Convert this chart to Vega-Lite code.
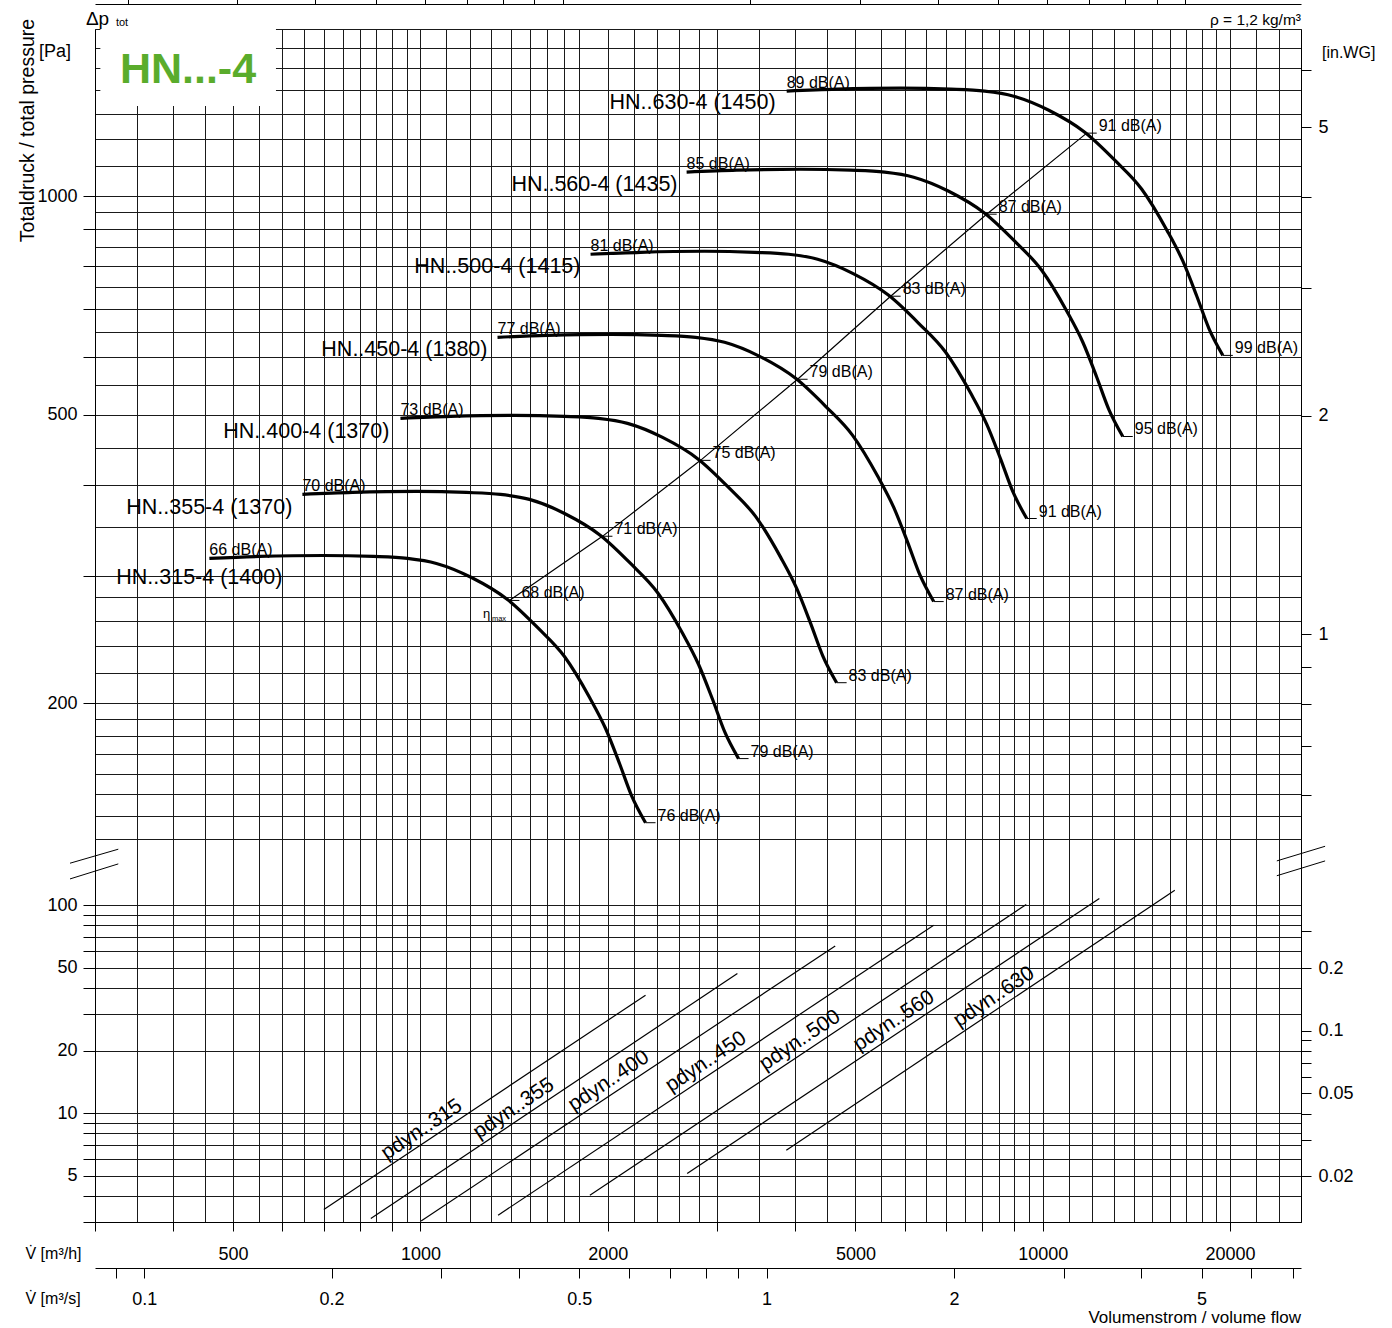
{
"$schema": "https://vega.github.io/schema/vega-lite/v6.json",
"width": 1206, "height": 1193,
"autosize": {"type": "none"},
"padding": {"left": 95, "top": 29, "right": 91, "bottom": 106},
"background": "#ffffff",
"config": {
 "view": {"stroke": null},
 "font": "Liberation Sans",
 "axis": {"domainColor": "#000", "tickColor": "#000", "gridColor": "#1a1a1a", "labelColor": "#000", "titleColor": "#000", "labelFontSize": 18, "titleFontWeight": "normal", "labelOverlap": false, "labelFlush": false, "labelBound": false, "tickWidth": 1, "domainWidth": 1, "gridWidth": 1, "gridOpacity": 1},
 "text": {"color": "#000"}
},
"datasets": {
 "xgrid": [300,350,400,450,500,550,600,650,700,750,800,850,900,950,1000,1100,1200,1300,1400,1500,1600,1700,1800,2000,2200,2400,2600,2800,3000,3500,4000,4500,5000,5500,6000,6500,7000,7500,8000,8500,9000,9500,10000,11000,12000,13000,14000,15000,16000,17000,18000,19000,20000,22000,24000,26000],
 "curves": [
  {"fan":"315","v":458,"p":316.7},{"fan":"315","v":551,"p":318.7},{"fan":"315","v":698.3,"p":319.7},{"fan":"315","v":840.5,"p":318.7},{"fan":"315","v":953,"p":316.7},{"fan":"315","v":1061,"p":311.7},{"fan":"315","v":1208,"p":298.1},{"fan":"315","v":1380,"p":278.0},{"fan":"315","v":1542,"p":254.4},{"fan":"315","v":1704,"p":232.0},{"fan":"315","v":1870,"p":203.7},{"fan":"315","v":1984,"p":184.6},{"fan":"315","v":2089,"p":165.2},{"fan":"315","v":2184,"p":149.2},{"fan":"315","v":2300,"p":136.9},
  {"fan":"355","v":646.2,"p":388.1},{"fan":"355","v":777.5,"p":390.5},{"fan":"355","v":985.3,"p":391.8},{"fan":"355","v":1186,"p":390.5},{"fan":"355","v":1344.7,"p":388.1},{"fan":"355","v":1497,"p":382.0},{"fan":"355","v":1704.5,"p":365.3},{"fan":"355","v":1947,"p":340.7},{"fan":"355","v":2176,"p":311.7},{"fan":"355","v":2404,"p":284.3},{"fan":"355","v":2639,"p":249.6},{"fan":"355","v":2799,"p":226.2},{"fan":"355","v":2948,"p":202.4},{"fan":"355","v":3082,"p":182.8},{"fan":"355","v":3245,"p":167.8},
  {"fan":"400","v":928.8,"p":494.0},{"fan":"400","v":1117.4,"p":497.1},{"fan":"400","v":1416.1,"p":498.7},{"fan":"400","v":1704.5,"p":497.1},{"fan":"400","v":1932.7,"p":494.0},{"fan":"400","v":2151.7,"p":486.2},{"fan":"400","v":2449.8,"p":465.0},{"fan":"400","v":2798.6,"p":433.7},{"fan":"400","v":3127.2,"p":396.8},{"fan":"400","v":3455.7,"p":361.9},{"fan":"400","v":3792.4,"p":317.8},{"fan":"400","v":4023.6,"p":288.0},{"fan":"400","v":4236.5,"p":257.7},{"fan":"400","v":4429.2,"p":232.7},{"fan":"400","v":4664.4,"p":213.5},
  {"fan":"450","v":1330.1,"p":639.0},{"fan":"450","v":1600.2,"p":643.0},{"fan":"450","v":2027.9,"p":645.0},{"fan":"450","v":2440.9,"p":643.0},{"fan":"450","v":2767.6,"p":639.0},{"fan":"450","v":3081.3,"p":628.9},{"fan":"450","v":3508.2,"p":601.5},{"fan":"450","v":4007.7,"p":560.9},{"fan":"450","v":4478.1,"p":513.3},{"fan":"450","v":4948.6,"p":468.1},{"fan":"450","v":5430.7,"p":411.0},{"fan":"450","v":5761.7,"p":372.4},{"fan":"450","v":6066.7,"p":333.3},{"fan":"450","v":6342.6,"p":301.0},{"fan":"450","v":6679.4,"p":276.2},
  {"fan":"500","v":1876.7,"p":831.7},{"fan":"500","v":2257.8,"p":836.9},{"fan":"500","v":2861.4,"p":839.6},{"fan":"500","v":3444.1,"p":836.9},{"fan":"500","v":3905.1,"p":831.7},{"fan":"500","v":4347.7,"p":818.6},{"fan":"500","v":4950.0,"p":782.8},{"fan":"500","v":5654.8,"p":730.1},{"fan":"500","v":6318.7,"p":668.1},{"fan":"500","v":6982.5,"p":609.3},{"fan":"500","v":7662.7,"p":534.9},{"fan":"500","v":8129.8,"p":484.8},{"fan":"500","v":8560.1,"p":433.8},{"fan":"500","v":8949.4,"p":391.8},{"fan":"500","v":9424.7,"p":359.5},
  {"fan":"560","v":2677.6,"p":1079.1},{"fan":"560","v":3221.3,"p":1085.9},{"fan":"560","v":4082.4,"p":1089.3},{"fan":"560","v":4913.7,"p":1085.9},{"fan":"560","v":5571.4,"p":1079.1},{"fan":"560","v":6202.8,"p":1062.0},{"fan":"560","v":7062.2,"p":1015.7},{"fan":"560","v":8067.8,"p":947.2},{"fan":"560","v":9014.8,"p":866.8},{"fan":"560","v":9961.9,"p":790.5},{"fan":"560","v":10932.4,"p":694.0},{"fan":"560","v":11598.9,"p":629.0},{"fan":"560","v":12212.7,"p":562.9},{"fan":"560","v":12768.1,"p":508.4},{"fan":"560","v":13446.3,"p":466.4},
  {"fan":"630","v":3877.2,"p":1395.7},{"fan":"630","v":4664.4,"p":1404.5},{"fan":"630","v":5911.4,"p":1408.9},{"fan":"630","v":7115.2,"p":1404.5},{"fan":"630","v":8067.5,"p":1395.7},{"fan":"630","v":8981.8,"p":1373.6},{"fan":"630","v":10226.2,"p":1313.7},{"fan":"630","v":11682.3,"p":1225.1},{"fan":"630","v":13053.6,"p":1121.1},{"fan":"630","v":14425.0,"p":1022.4},{"fan":"630","v":15830.3,"p":897.7},{"fan":"630","v":16795.4,"p":813.5},{"fan":"630","v":17684.2,"p":728.0},{"fan":"630","v":18488.4,"p":657.5},{"fan":"630","v":19470.4,"p":603.3}
 ],
 "eta": [{"v":1390,"p":277.2},{"v":1961,"p":339.7},{"v":2819,"p":432.4},{"v":4037,"p":559.3},{"v":5696,"p":728.0},{"v":8126,"p":944.5},{"v":11767,"p":1221.6}],
 "dbTick": [
  {"v":1390,"p":277.2,"t":"68 dB(A)"},{"v":1961,"p":339.7,"t":"71 dB(A)"},{"v":2819,"p":432.4,"t":"75 dB(A)"},{"v":4037,"p":559.3,"t":"79 dB(A)"},{"v":5696,"p":728.0,"t":"83 dB(A)"},{"v":8126,"p":944.5,"t":"87 dB(A)"},{"v":11767,"p":1221.6,"t":"91 dB(A)"},
  {"v":2300,"p":136.9,"t":"76 dB(A)"},{"v":3245,"p":167.8,"t":"79 dB(A)"},{"v":4664.4,"p":213.5,"t":"83 dB(A)"},{"v":6679.4,"p":276.2,"t":"87 dB(A)"},{"v":9424.7,"p":359.5,"t":"91 dB(A)"},{"v":13446.3,"p":466.4,"t":"95 dB(A)"},{"v":19470.4,"p":603.3,"t":"99 dB(A)"}
 ],
 "dbStart": [{"v":458,"p":316.7,"t":"66 dB(A)"},{"v":646.2,"p":388.1,"t":"70 dB(A)"},{"v":928.8,"p":494.0,"t":"73 dB(A)"},{"v":1330.1,"p":639.0,"t":"77 dB(A)"},{"v":1876.7,"p":831.7,"t":"81 dB(A)"},{"v":2677.6,"p":1079.1,"t":"85 dB(A)"},{"v":3877.2,"p":1395.7,"t":"89 dB(A)"}],
 "names": [{"v":600,"p":298.1,"t":"HN..315-4 (1400)"},{"v":622.6,"p":371.3,"t":"HN..355-4 (1370)"},{"v":891.6,"p":472.6,"t":"HN..400-4 (1370)"},{"v":1281.6,"p":613.4,"t":"HN..450-4 (1380)"},{"v":1808,"p":798,"t":"HN..500-4 (1415)"},{"v":2589,"p":1035,"t":"HN..560-4 (1435)"},{"v":3722,"p":1344,"t":"HN..630-4 (1450)"}],
 "pdyn": [
  {"fan":"315","v":699.6,"p":3.444},{"fan":"315","v":2300,"p":36.93},
  {"fan":"355","v":832.4,"p":3.117},{"fan":"355","v":3231,"p":46.95},
  {"fan":"400","v":1002.6,"p":3.036},{"fan":"400","v":4640,"p":63.72},
  {"fan":"450","v":1333,"p":3.233},{"fan":"450","v":6680,"p":80.14},
  {"fan":"500","v":1872,"p":4.035},{"fan":"500","v":9407,"p":100.8},
  {"fan":"560","v":2683,"p":5.130},{"fan":"560","v":12329,"p":107.7},
  {"fan":"630","v":3872,"p":6.640},{"fan":"630","v":16300,"p":118.1}
 ],
 "pdynLabels": [{"v":1030,"p":7.47,"t":"pdyn..315"},{"v":1448,"p":9.43,"t":"pdyn..355"},{"v":2058,"p":12.79,"t":"pdyn..400"},{"v":2948,"p":15.81,"t":"pdyn..450"},{"v":4175,"p":20.07,"t":"pdyn..500"},{"v":5910,"p":24.89,"t":"pdyn..560"},{"v":8559,"p":32.45,"t":"pdyn..630"}],
 "breaks": [{"id":"a","v":273.5,"p":159.1},{"id":"a","v":327.0,"p":185.8},{"id":"b","v":273.5,"p":133.7},{"id":"b","v":327.0,"p":157.9},{"id":"c","v":23775,"p":163.2},{"id":"c","v":28425,"p":191.9},{"id":"d","v":23775,"p":138.5},{"id":"d","v":28425,"p":163.2}]
},
"resolve": {"scale": {"y": "independent"}, "axis": {"x": "independent", "y": "independent"}},
"layer": [
 {
  "resolve": {"axis": {"x": "independent", "y": "independent"}},
  "layer": [
   {"data": {"name": "curves"},
    "mark": {"type": "line", "stroke": "#000", "strokeWidth": 3.2, "interpolate": "monotone"},
    "encoding": {
     "x": {"field": "v", "type": "quantitative", "scale": {"type": "log", "domain": [300, 26000], "nice": false},
      "axis": {"orient": "top", "grid": true, "domain": false, "ticks": false, "labels": false, "title": null,
       "values": [300,350,400,450,500,550,600,650,700,750,800,850,900,950,1000,1100,1200,1300,1400,1500,1600,1700,1800,2000,2200,2400,2600,2800,3000,3500,4000,4500,5000,5500,6000,6500,7000,7500,8000,8500,9000,9500,10000,11000,12000,13000,14000,15000,16000,17000,18000,19000,20000,22000,24000,26000]}},
     "y": {"field": "p", "type": "quantitative", "scale": {"type": "log", "domain": [130, 1700], "range": [810, 0], "nice": false},
      "axis": {"orient": "left", "grid": true, "domain": false, "ticks": false, "labels": false, "title": null,
       "values": [130,140,150,160,170,180,190,200,220,240,260,280,300,350,400,450,500,550,600,650,700,750,800,850,900,950,1000,1100,1200,1300,1400,1500,1600,1700]}},
     "detail": {"field": "fan"}
    }},
   {"data": {"name": "eta"},
    "mark": {"type": "line", "stroke": "#000", "strokeWidth": 1.2},
    "encoding": {
     "x": {"field": "v", "type": "quantitative", "scale": {"type": "log", "domain": [300, 26000], "nice": false},
      "axis": {"orient": "top", "offset": 25, "grid": false, "labels": false, "ticks": true, "tickSize": 8, "domain": true, "title": null,
       "values": [339,508,678,847,1017,1186,1356,1525,1695,3390,5085,6780,8475,10170,11865,13560,15255,16950]}},
     "y": {"field": "p", "type": "quantitative", "scale": {"type": "log", "domain": [130, 1700], "range": [810, 0], "nice": false},
      "axis": {"orient": "left", "grid": false, "domain": true, "tickSize": 12, "labelPadding": 6, "labelBaseline": "middle",
       "values": [200,300,400,500,600,700,800,900,1000],
       "labelExpr": "indexof([200,500,1000], datum.value) >= 0 ? '' + datum.value : ''",
       "title": "Totaldruck / total pressure", "titleAngle": 270, "titleX": -62, "titleY": 101, "titleAlign": "center", "titleBaseline": "alphabetic", "titleFontSize": 19.5}}
    }},
   {"data": {"name": "dbTick"},
    "mark": {"type": "tick", "orient": "horizontal", "size": 10, "thickness": 1, "xOffset": 5, "color": "#000", "opacity": 1},
    "encoding": {
     "x": {"field": "v", "type": "quantitative", "scale": {"type": "log", "domain": [300, 26000], "nice": false}, "axis": null},
     "y": {"field": "p", "type": "quantitative", "scale": {"type": "log", "domain": [130, 1700], "range": [810, 0], "nice": false},
      "axis": {"orient": "right", "grid": false, "domain": true, "tickSize": 10, "labelPadding": 7, "title": null, "labelBaseline": "middle",
       "values": [149.45,174.36,199.27,224.18,249.09,498.18,747.27,996.36,1245.45,1494.53],
       "labelExpr": "datum.value > 1200 && datum.value < 1300 ? '5' : (datum.value > 480 && datum.value < 520 ? '2' : (datum.value > 240 && datum.value < 260 ? '1' : ''))"}}
    }},
   {"data": {"name": "dbTick"},
    "mark": {"type": "text", "align": "left", "baseline": "alphabetic", "dx": 12, "dy": -2, "fontSize": 16, "fill": "#000"},
    "encoding": {
     "x": {"field": "v", "type": "quantitative", "scale": {"type": "log", "domain": [300, 26000], "nice": false}, "axis": null},
     "y": {"field": "p", "type": "quantitative", "scale": {"type": "log", "domain": [130, 1700], "range": [810, 0], "nice": false}, "axis": null},
     "text": {"field": "t"}
    }},
   {"data": {"name": "dbStart"},
    "mark": {"type": "text", "align": "left", "baseline": "alphabetic", "dx": 0, "dy": -3, "fontSize": 16, "fill": "#000"},
    "encoding": {
     "x": {"field": "v", "type": "quantitative", "scale": {"type": "log", "domain": [300, 26000], "nice": false}, "axis": null},
     "y": {"field": "p", "type": "quantitative", "scale": {"type": "log", "domain": [130, 1700], "range": [810, 0], "nice": false}, "axis": null},
     "text": {"field": "t"}
    }},
   {"data": {"name": "names"},
    "mark": {"type": "text", "align": "right", "baseline": "middle", "fontSize": 21.5, "fill": "#000"},
    "encoding": {
     "x": {"field": "v", "type": "quantitative", "scale": {"type": "log", "domain": [300, 26000], "nice": false}, "axis": null},
     "y": {"field": "p", "type": "quantitative", "scale": {"type": "log", "domain": [130, 1700], "range": [810, 0], "nice": false}, "axis": null},
     "text": {"field": "t"}
    }},
   {"data": {"values": [{"v": 306, "v2": 586, "p": 1331, "p2": 1700}]},
    "mark": {"type": "rect", "fill": "#ffffff", "stroke": null},
    "encoding": {
     "x": {"field": "v", "type": "quantitative", "scale": {"type": "log", "domain": [300, 26000], "nice": false}, "axis": null},
     "x2": {"field": "v2"},
     "y": {"field": "p", "type": "quantitative", "scale": {"type": "log", "domain": [130, 1700], "range": [810, 0], "nice": false}, "axis": null},
     "y2": {"field": "p2"}
    }},
   {"data": {"values": [{"v": 423.2, "p": 1432.3, "t": "HN...-4"}]},
    "mark": {"type": "text", "align": "center", "baseline": "alphabetic", "fontSize": 43, "fontWeight": "bold", "fill": "#5aac2c"},
    "encoding": {
     "x": {"field": "v", "type": "quantitative", "scale": {"type": "log", "domain": [300, 26000], "nice": false}, "axis": null},
     "y": {"field": "p", "type": "quantitative", "scale": {"type": "log", "domain": [130, 1700], "range": [810, 0], "nice": false}, "axis": null},
     "text": {"field": "t"}
    }},
   {"data": {"values": [{"v": 290.1, "p": 1721.7, "t": "Δp"}]},
    "mark": {"type": "text", "align": "left", "baseline": "alphabetic", "fontSize": 19, "fill": "#000"},
    "encoding": {
     "x": {"field": "v", "type": "quantitative", "scale": {"type": "log", "domain": [300, 26000], "nice": false}, "axis": null},
     "y": {"field": "p", "type": "quantitative", "scale": {"type": "log", "domain": [130, 1700], "range": [810, 0], "nice": false}, "axis": null},
     "text": {"field": "t"}
    }},
   {"data": {"values": [{"v": 324.1, "p": 1716, "t": "tot"}]},
    "mark": {"type": "text", "align": "left", "baseline": "alphabetic", "fontSize": 11, "fill": "#000"},
    "encoding": {
     "x": {"field": "v", "type": "quantitative", "scale": {"type": "log", "domain": [300, 26000], "nice": false}, "axis": null},
     "y": {"field": "p", "type": "quantitative", "scale": {"type": "log", "domain": [130, 1700], "range": [810, 0], "nice": false}, "axis": null},
     "text": {"field": "t"}
    }},
   {"data": {"values": [{"v": 243.8, "p": 1555.5, "t": "[Pa]"}]},
    "mark": {"type": "text", "align": "left", "baseline": "alphabetic", "fontSize": 18, "fill": "#000"},
    "encoding": {
     "x": {"field": "v", "type": "quantitative", "scale": {"type": "log", "domain": [300, 26000], "nice": false}, "axis": null},
     "y": {"field": "p", "type": "quantitative", "scale": {"type": "log", "domain": [130, 1700], "range": [810, 0], "nice": false}, "axis": null},
     "text": {"field": "t"}
    }},
   {"data": {"values": [{"v": 26000, "p": 1721.7, "t": "ρ = 1,2 kg/m³"}]},
    "mark": {"type": "text", "align": "right", "baseline": "alphabetic", "fontSize": 15.5, "fill": "#000"},
    "encoding": {
     "x": {"field": "v", "type": "quantitative", "scale": {"type": "log", "domain": [300, 26000], "nice": false}, "axis": null},
     "y": {"field": "p", "type": "quantitative", "scale": {"type": "log", "domain": [130, 1700], "range": [810, 0], "nice": false}, "axis": null},
     "text": {"field": "t"}
    }},
   {"data": {"values": [{"v": 28100, "p": 1550.7, "t": "[in.WG]"}]},
    "mark": {"type": "text", "align": "left", "baseline": "alphabetic", "fontSize": 16, "fill": "#000"},
    "encoding": {
     "x": {"field": "v", "type": "quantitative", "scale": {"type": "log", "domain": [300, 26000], "nice": false}, "axis": null},
     "y": {"field": "p", "type": "quantitative", "scale": {"type": "log", "domain": [130, 1700], "range": [810, 0], "nice": false}, "axis": null},
     "text": {"field": "t"}
    }},
   {"data": {"values": [{"v": 1260.6, "p": 262.2, "t": "η"}]},
    "mark": {"type": "text", "align": "left", "baseline": "alphabetic", "fontSize": 13, "fill": "#000"},
    "encoding": {
     "x": {"field": "v", "type": "quantitative", "scale": {"type": "log", "domain": [300, 26000], "nice": false}, "axis": null},
     "y": {"field": "p", "type": "quantitative", "scale": {"type": "log", "domain": [130, 1700], "range": [810, 0], "nice": false}, "axis": null},
     "text": {"field": "t"}
    }},
   {"data": {"values": [{"v": 1303, "p": 259.7, "t": "max"}]},
    "mark": {"type": "text", "align": "left", "baseline": "alphabetic", "fontSize": 7.5, "fill": "#000"},
    "encoding": {
     "x": {"field": "v", "type": "quantitative", "scale": {"type": "log", "domain": [300, 26000], "nice": false}, "axis": null},
     "y": {"field": "p", "type": "quantitative", "scale": {"type": "log", "domain": [130, 1700], "range": [810, 0], "nice": false}, "axis": null},
     "text": {"field": "t"}
    }}
  ]
 },
 {
  "resolve": {"axis": {"x": "independent", "y": "independent"}},
  "layer": [
   {"data": {"name": "pdyn"},
    "mark": {"type": "line", "stroke": "#000", "strokeWidth": 1.2},
    "encoding": {
     "x": {"field": "v", "type": "quantitative", "scale": {"type": "log", "domain": [300, 26000], "nice": false},
      "axis": {"orient": "bottom", "grid": false, "domain": true, "tickSize": 9, "labelPadding": 14,
       "values": [300,400,500,600,700,800,900,1000,2000,3000,4000,5000,6000,7000,8000,9000,10000,20000],
       "labelExpr": "indexof([500,1000,2000,5000,10000,20000], datum.value) >= 0 ? '' + datum.value : ''",
       "title": "V̇  [m³/h]", "titleX": -70, "titleY": 31, "titleAlign": "left", "titleBaseline": "middle", "titleAngle": 0, "titleFontSize": 16}},
     "y": {"field": "p", "type": "quantitative", "scale": {"type": "log", "domain": [3, 208], "range": [1193, 810], "nice": false},
      "axis": {"orient": "left", "grid": true, "domain": false, "ticks": false, "labels": false, "title": null,
       "values": [3,4,5,6,7,8,9,10,20,30,40,50,60,70,80,90,100]}},
     "detail": {"field": "fan"}
    }},
   {"data": {"name": "pdynLabels"},
    "mark": {"type": "text", "align": "center", "baseline": "alphabetic", "angle": 326.2, "dy": -6, "fontSize": 21, "fill": "#000"},
    "encoding": {
     "x": {"field": "v", "type": "quantitative", "scale": {"type": "log", "domain": [300, 26000], "nice": false},
      "axis": {"orient": "bottom", "offset": 46, "grid": false, "domain": true, "tickSize": 10, "labelPadding": 12,
       "values": [324,360,720,1080,1440,1800,2160,2520,2880,3240,3600,7200,10800,14400,18000,21600,25200],
       "labelExpr": "datum.value == 360 ? '0.1' : (datum.value == 720 ? '0.2' : (datum.value == 1800 ? '0.5' : (datum.value == 3600 ? '1' : (datum.value == 7200 ? '2' : (datum.value == 18000 ? '5' : '')))))",
       "title": "V̇  [m³/s]", "titleX": -70, "titleY": 30, "titleAlign": "left", "titleBaseline": "middle", "titleAngle": 0, "titleFontSize": 16}},
     "y": {"field": "p", "type": "quantitative", "scale": {"type": "log", "domain": [3, 208], "range": [1193, 810], "nice": false},
      "axis": {"orient": "left", "grid": false, "domain": true, "tickSize": 12, "labelPadding": 6, "labelBaseline": "middle", "title": null,
       "values": [3,4,5,6,7,8,9,10,20,30,40,50,60,70,80,90,100],
       "labelExpr": "indexof([5,10,20,50,100], datum.value) >= 0 ? '' + datum.value : ''"}},
     "text": {"field": "t"}
    }},
   {"data": {"name": "breaks"},
    "mark": {"type": "line", "stroke": "#000", "strokeWidth": 1},
    "encoding": {
     "x": {"field": "v", "type": "quantitative", "scale": {"type": "log", "domain": [300, 26000], "nice": false},
      "axis": {"orient": "top", "grid": true, "domain": false, "ticks": false, "labels": false, "title": null,
       "values": [300,350,400,450,500,550,600,650,700,750,800,850,900,950,1000,1100,1200,1300,1400,1500,1600,1700,1800,2000,2200,2400,2600,2800,3000,3500,4000,4500,5000,5500,6000,6500,7000,7500,8000,8500,9000,9500,10000,11000,12000,13000,14000,15000,16000,17000,18000,19000,20000,22000,24000,26000]}},
     "y": {"field": "p", "type": "quantitative", "scale": {"type": "log", "domain": [3, 208], "range": [1193, 810], "nice": false},
      "axis": {"orient": "right", "grid": false, "domain": true, "tickSize": 10, "labelPadding": 7, "labelBaseline": "middle", "title": null,
       "values": [4.98,7.47,9.96,12.45,14.95,17.44,19.93,22.42,24.91,49.82,74.73],
       "labelExpr": "datum.value < 6 ? '0.02' : (datum.value > 12 && datum.value < 13 ? '0.05' : (datum.value > 24 && datum.value < 26 ? '0.1' : (datum.value > 49 && datum.value < 51 ? '0.2' : '')))"}},
     "detail": {"field": "id"}
    }},
   {"data": {"values": [{"v": 26000, "p": 1.0365, "t": "Volumenstrom / volume flow"}]},
    "mark": {"type": "text", "align": "right", "baseline": "middle", "fontSize": 17, "fill": "#000"},
    "encoding": {
     "x": {"field": "v", "type": "quantitative", "scale": {"type": "log", "domain": [300, 26000], "nice": false}, "axis": null},
     "y": {"field": "p", "type": "quantitative", "scale": {"type": "log", "domain": [3, 208], "range": [1193, 810], "nice": false}, "axis": null},
     "text": {"field": "t"}
    }}
  ]
 }
]
}
